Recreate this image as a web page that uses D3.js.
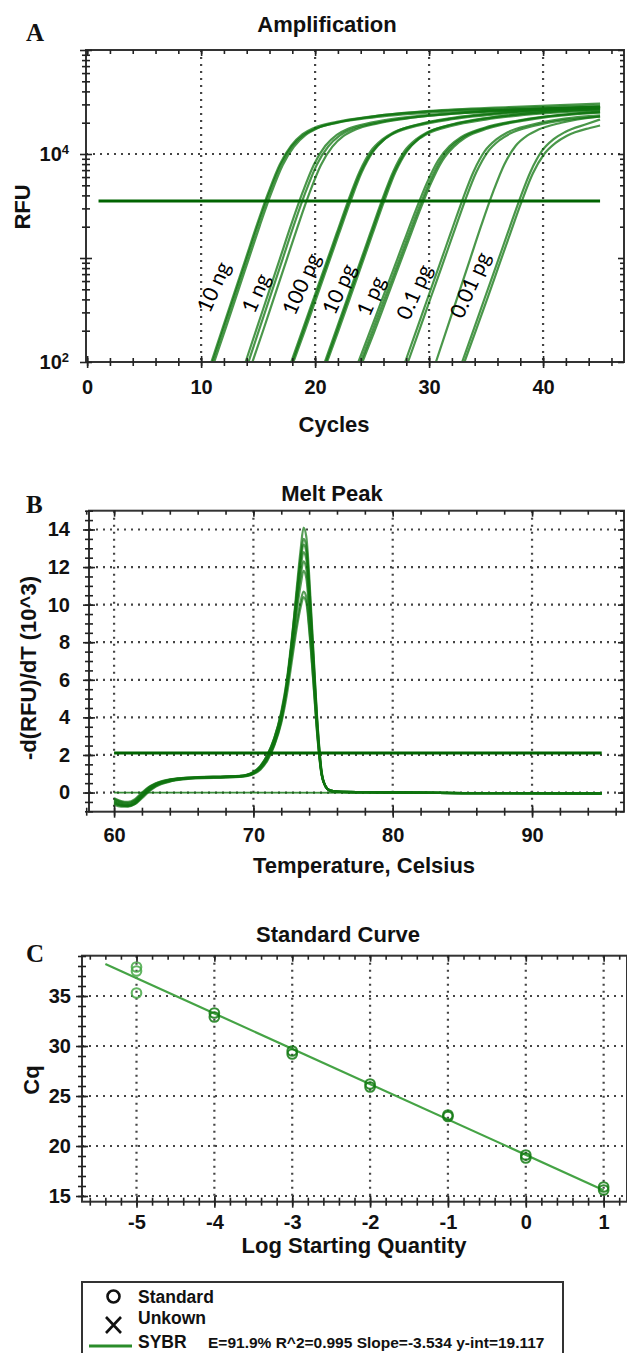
<!DOCTYPE html>
<html>
<head>
<meta charset="utf-8">
<script src="https://cdn.jsdelivr.net/npm/d3@7"></script>
<style>
  body { margin: 0; background: #fff; }
  svg text { font-family: "Liberation Sans", Arial, sans-serif; font-weight: bold; fill: #111; }
  .grid { stroke: #444; stroke-width: 2.2; stroke-dasharray: 2 5; }
</style>
</head>
<body>
<svg width="627" height="1353"></svg>
<script>
// ---- A: amplification (cycle, RFU) ----
var ampGroups = ['10 ng', '1 ng', '100 pg', '10 pg', '1 pg', '0.1 pg', '0.01 pg'];
var ampLabelCycle = [11.1, 14.8, 18.8, 22.1, 24.9, 28.7, 33.6];
var ampLabelRfu = [526, 460, 562, 503, 431, 471, 550];
var ampThreshold = 3530;
var ampXTicks = [0, 10, 20, 30, 40];
var ampYTicks = [100, 10000];

var amp10ng = [
  [[1,100],[10.9,100],[11.9,214],[12.9,457],[13.9,977],[14.9,2090],[15.9,4270],[16.9,7940],[17.9,12000],[18.9,15500],[19.9,17800],[21.9,20400],[24.9,22900],[29.9,25700],[36.9,27500],[45,29200]],
  [[1,100],[11,100],[12,214],[13,457],[14,977],[15,2090],[16,4270],[17,7940],[18,12000],[19,15300],[20,17500],[22,20000],[25,22400],[30,25000],[37,26900],[45,28300]],
  [[1,100],[11.15,100],[12.15,210],[13.15,450],[14.15,960],[15.15,2050],[16.15,4200],[17.15,7800],[18.15,11800],[19.15,15200],[20.15,17600],[22.15,20300],[25.15,23000],[30.15,26000],[37,28300],[45,30500]]
];
var amp1ng = [
  [[1,100],[13.9,100],[14.9,214],[15.9,457],[16.9,977],[17.9,2090],[18.9,4270],[19.9,7940],[20.9,12000],[21.9,15300],[22.9,17500],[24.9,20000],[27.9,22500],[32.9,25200],[39.9,27300],[45,28500]],
  [[1,100],[14.15,100],[15.15,214],[16.15,457],[17.15,977],[18.15,2090],[19.15,4270],[20.15,7900],[21.15,11800],[22.15,15000],[23.15,17200],[25.15,19700],[28.15,22200],[33.15,24800],[40,26800],[45,27800]],
  [[1,100],[14.5,100],[15.5,210],[16.5,450],[17.5,960],[18.5,2050],[19.5,4200],[20.5,7800],[21.5,11700],[22.5,14900],[23.5,17100],[25.5,19700],[28.5,22300],[33.5,25000],[40,27000],[45,28200]]
];
var amp100pg = [
  [[1,100],[17.9,100],[18.9,204],[19.9,417],[20.9,851],[21.9,1740],[22.9,3550],[23.9,6760],[24.9,10700],[25.9,13800],[26.9,16200],[28.9,19000],[31.9,21900],[36.9,25100],[45,27800]],
  [[1,100],[18,100],[19,204],[20,417],[21,851],[22,1740],[23,3550],[24,6700],[25,10500],[26,13600],[27,15900],[29,18700],[32,21600],[37,24700],[45,27300]],
  [[1,100],[18.1,100],[19.1,200],[20.1,410],[21.1,840],[22.1,1720],[23.1,3500],[24.1,6700],[25.1,10600],[26.1,13900],[27.1,16400],[29.1,19300],[32.1,22300],[37.1,25500],[45,28400]]
];
var amp10pg = [
  [[1,100],[20.85,100],[21.85,204],[22.85,417],[23.85,851],[24.85,1740],[25.85,3550],[26.85,6760],[27.85,10700],[28.85,13800],[29.85,16200],[31.85,19000],[34.85,21900],[39.85,25100],[45,26800]],
  [[1,100],[20.95,100],[21.95,204],[22.95,417],[23.95,851],[24.95,1740],[25.95,3550],[26.95,6700],[27.95,10500],[28.95,13500],[29.95,15800],[31.95,18600],[34.95,21400],[39.95,24500],[45,26200]],
  [[1,100],[21.05,100],[22.05,200],[23.05,410],[24.05,840],[25.05,1720],[26.05,3500],[27.05,6700],[28.05,10600],[29.05,13900],[30.05,16400],[32.05,19300],[35.05,22200],[40.05,25300],[45,27000]]
];
var amp1pg = [
  [[1,100],[23.8,100],[24.8,195],[25.8,380],[26.8,741],[27.8,1450],[28.8,2820],[29.8,5250],[30.8,8710],[31.8,11900],[32.8,14500],[34.8,17800],[37.8,21000],[42.8,24500],[45,25500]],
  [[1,100],[24,100],[25,195],[26,380],[27,741],[28,1450],[29,2820],[30,5250],[31,8710],[32,11900],[33,14500],[35,17800],[38,21000],[43,24500],[45,25300]],
  [[1,100],[24.15,100],[25.15,190],[26.15,372],[27.15,730],[28.15,1430],[29.15,2790],[30.15,5200],[31.15,8600],[32.15,11700],[33.15,14300],[35.15,17600],[38.15,20800],[43.15,24300],[45,25000]]
];
var amp01pg = [
  [[1,100],[27.9,100],[28.9,204],[29.9,417],[30.9,851],[31.9,1740],[32.9,3550],[33.9,6760],[34.9,10700],[35.9,13800],[36.9,16200],[38.9,19000],[41.9,21900],[45,23500]],
  [[1,100],[28.15,100],[29.15,204],[30.15,417],[31.15,851],[32.15,1740],[33.15,3550],[34.15,6700],[35.15,10500],[36.15,13500],[37.15,15800],[39.15,18600],[42.15,21400],[45,22800]]
];
var amp001pg = [
  [[1,100],[30.6,100],[31.6,214],[32.6,457],[33.6,977],[34.6,2090],[35.6,4270],[36.6,7940],[37.6,12000],[38.6,15000],[39.6,17200],[41.6,20000],[45,23000]],
  [[1,100],[32.9,100],[33.9,204],[34.9,417],[35.9,851],[36.9,1740],[37.9,3550],[38.9,6760],[39.9,10700],[40.9,13800],[41.9,16200],[43.9,19500],[45,21500]],
  [[1,100],[33.1,100],[34.1,200],[35.1,405],[36.1,830],[37.1,1700],[38.1,3450],[39.1,6500],[40.1,10000],[41.1,12800],[42.1,15000],[44.1,17800],[45,18800]]
];

// ---- B: melt peak, -d(RFU)/dT in 10^3 ----
var meltTemps = [60, 60.5, 61, 61.5, 62, 62.5, 63, 64, 65, 66, 68, 69, 69.5, 70, 70.5, 71, 71.5, 72, 72.4, 72.8, 73.1, 73.4, 73.6, 73.8, 74.0, 74.3, 74.6, 74.9, 75.2, 75.5, 76, 78, 85, 95];
var melt1 = [-0.4,-0.55,-0.6,-0.45,-0.1,0.25,0.45,0.68,0.77,0.81,0.85,0.88,0.93,1.05,1.3,1.8,2.6,3.9,5.7,8.4,10.8,13.0,14.1,13.6,11.6,7.6,3.7,1.1,0.3,0.1,0.05,0.02,-0.03,-0.05];
var melt2 = [-0.5,-0.65,-0.7,-0.55,-0.2,0.15,0.4,0.64,0.74,0.79,0.83,0.86,0.9,1.02,1.32,1.85,2.7,4.0,5.8,8.3,10.5,12.6,13.5,13.1,11.2,7.4,3.6,1.1,0.3,0.1,0.05,0.02,-0.03,-0.05];
var melt3 = [-0.3,-0.45,-0.5,-0.35,0,0.3,0.5,0.7,0.78,0.82,0.86,0.89,0.95,1.1,1.4,2.0,2.9,4.3,6.0,8.5,10.5,12.4,13.2,12.8,10.9,7.2,3.5,1.0,0.3,0.1,0.05,0.02,-0.03,-0.05];
var melt4 = [-0.6,-0.7,-0.72,-0.6,-0.25,0.1,0.35,0.6,0.72,0.77,0.81,0.84,0.88,1.0,1.25,1.75,2.55,3.8,5.5,7.9,10.0,12.0,12.8,12.4,10.6,7.0,3.4,1.0,0.3,0.1,0.05,0.02,-0.03,-0.05];
var melt5 = [-0.45,-0.6,-0.65,-0.5,-0.15,0.2,0.42,0.66,0.75,0.8,0.84,0.87,0.92,1.06,1.38,1.95,2.85,4.2,5.9,8.2,10.0,11.6,12.3,11.9,10.1,6.7,3.2,1.0,0.3,0.1,0.05,0.02,-0.03,-0.05];
var melt6 = [-0.55,-0.68,-0.7,-0.58,-0.22,0.12,0.38,0.62,0.73,0.78,0.82,0.85,0.9,1.04,1.35,1.9,2.75,4.0,5.6,7.8,9.6,11.1,11.8,11.4,9.7,6.4,3.1,0.95,0.3,0.1,0.05,0.02,-0.03,-0.05];
var melt7 = [-0.35,-0.5,-0.55,-0.4,-0.05,0.28,0.48,0.69,0.77,0.81,0.85,0.88,0.93,1.08,1.42,2.0,2.9,4.2,5.6,7.5,9.0,10.2,10.7,10.4,8.9,6.0,3.0,0.95,0.3,0.1,0.05,0.02,-0.03,-0.05];
var melt8 = [-0.65,-0.75,-0.75,-0.62,-0.3,0.05,0.32,0.58,0.7,0.76,0.8,0.83,0.87,0.98,1.22,1.7,2.5,3.7,5.2,7.2,8.7,9.9,10.4,10.1,8.7,5.9,2.9,0.9,0.3,0.1,0.05,0.02,-0.03,-0.05];
var meltBlankTemps = [60, 95];
var meltBlank = [0, -0.03];
var meltThreshold = 2.1;
var meltXTicks = [60, 70, 80, 90];
var meltYTicks = [0, 2, 4, 6, 8, 10, 12, 14];

// ---- C: standard curve ----
var stdLogQty = [-5, -5, -5, -4, -4, -3, -3, -2, -2, -1, -1, 0, 0, 1, 1];
var stdCq = [37.9, 37.5, 35.3, 33.3, 32.9, 29.5, 29.2, 26.2, 25.9, 23.1, 22.95, 19.1, 18.8, 15.9, 15.6];
var fitRange = [-5.4, 1.0];
var fitSlope = -3.534, fitIntercept = 19.117, fitEff = 91.9, fitR2 = 0.995;
var stdXTicks = [-5, -4, -3, -2, -1, 0, 1];
var stdYTicks = [15, 20, 25, 30, 35];

var svg = d3.select('svg');
var green = '#0e740e';

function txt(x, y, s, size, opt) {
  opt = opt || {};
  return svg.append('text')
    .attr('transform', 'translate(' + x + ',' + y + ')' + (opt.rot ? ' rotate(' + opt.rot + ')' : ''))
    .attr('text-anchor', opt.anchor || 'middle')
    .attr('dy', opt.dy || null)
    .style('font-size', size + 'px')
    .text(s);
}

function grid(x, y, xs, ys) {
  var g = svg.append('g');
  xs.forEach(function (v) {
    g.append('line').attr('class', 'grid')
      .attr('x1', x(v)).attr('x2', x(v)).attr('y1', y.range()[1]).attr('y2', y.range()[0]);
  });
  ys.forEach(function (v) {
    g.append('line').attr('class', 'grid')
      .attr('y1', y(v)).attr('y2', y(v)).attr('x1', x.range()[0]).attr('x2', x.range()[1]);
  });
}

function marks(axis, tr, vals, size) {
  var g = svg.append('g').attr('transform', tr)
    .call(axis.tickValues(vals).tickSize(size).tickFormat(function () { return ''; }));
  g.select('.domain').remove();
  g.selectAll('line').attr('stroke', '#222').attr('stroke-width', 1.6);
}

function frame(x, y, xMinor, yMinor, xMajor, yMajor, noRight) {
  var xl = x.range()[0], xr = x.range()[1], yb = y.range()[0], yt = y.range()[1];
  svg.append('rect').attr('x', xl).attr('y', yt).attr('width', xr - xl).attr('height', yb - yt)
    .attr('fill', 'none').attr('stroke', '#333').attr('stroke-width', 2);
  [[xMinor, 4], [xMajor, 6]].forEach(function (p) {
    marks(d3.axisBottom(x), 'translate(0,' + yb + ')', p[0], p[1]);
    marks(d3.axisTop(x), 'translate(0,' + yb + ')', p[0], p[1]);
    marks(d3.axisBottom(x), 'translate(0,' + yt + ')', p[0], p[1]);
  });
  [[yMinor, 4], [yMajor, 6]].forEach(function (p) {
    marks(d3.axisLeft(y), 'translate(' + xl + ',0)', p[0], p[1]);
    marks(d3.axisRight(y), 'translate(' + xl + ',0)', p[0], p[1]);
    if (!noRight) marks(d3.axisLeft(y), 'translate(' + xr + ',0)', p[0], p[1]);
  });
}

function labels(axis, tr, vals, pad, fmt) {
  var g = svg.append('g').attr('transform', tr)
    .call(axis.tickValues(vals).tickSize(0).tickPadding(pad).tickFormat(fmt || function (d) { return String(d); }));
  g.select('.domain').remove();
  g.selectAll('text').style('font-size', '20px').style('font-family', '"Liberation Sans", Arial, sans-serif').attr('fill', '#111');
  return g;
}

// ================= A =================
var xA = d3.scaleLinear().domain([-0.1, 47.1]).range([86, 624]);
var yA = d3.scaleLog().domain([100, 100000]).range([362, 50]);
grid(xA, yA, [10, 20, 30, 40], [10000]);

var baseA = d3.line().x(function (d) { return xA(d[0]); }).y(function (d) { return yA(d[1]); });
var riseA = d3.line().x(function (d) { return xA(d[0]); }).y(function (d) { return yA(d[1]); }).curve(d3.curveMonotoneX);
[amp10ng, amp1ng, amp100pg, amp10pg, amp1pg, amp01pg, amp001pg].forEach(function (group) {
  group.forEach(function (curve) {
    svg.append('path').attr('d', baseA(curve.slice(0, 2))).attr('fill', 'none')
      .attr('stroke', green).attr('stroke-width', 2.2).attr('stroke-opacity', 0.75);
    svg.append('path').attr('d', riseA(curve.slice(1))).attr('fill', 'none')
      .attr('stroke', green).attr('stroke-width', 2.2).attr('stroke-opacity', 0.75);
  });
});
svg.append('line').attr('x1', xA(1)).attr('x2', xA(45)).attr('y1', yA(ampThreshold)).attr('y2', yA(ampThreshold))
  .attr('stroke', '#006400').attr('stroke-width', 3);

ampGroups.forEach(function (name, i) {
  svg.append('text')
    .attr('transform', 'translate(' + xA(ampLabelCycle[i]) + ',' + yA(ampLabelRfu[i]) + ') rotate(-66)')
    .attr('text-anchor', 'middle').attr('dy', '0.35em')
    .style('font-family', 'Lato, "Open Sans", sans-serif').style('font-weight', 'normal')
    .style('font-size', '21px').style('fill', '#000')
    .text(name);
});

var minorA = [];
[100, 1000, 10000].forEach(function (p) { for (var k = 2; k <= 9; k++) minorA.push(p * k); });
frame(xA, yA, d3.range(0, 47, 2), minorA, ampXTicks, [100, 1000, 10000, 100000]);
labels(d3.axisBottom(xA), 'translate(0,362)', ampXTicks, 18);
labels(d3.axisLeft(yA), 'translate(86,0)', ampYTicks, 17, function () { return '10'; })
  .selectAll('text').each(function (d) {
    d3.select(this).append('tspan').attr('dy', '-0.55em').style('font-size', '13px')
      .text(Math.round(Math.log10(d)));
  });

txt(327, 32, 'Amplification', 22);
txt(22, 207, 'RFU', 22, { rot: -90, dy: '0.35em' });
txt(334, 432, 'Cycles', 22);
txt(26, 41, 'A', 25, { anchor: 'start' }).style('font-family', '"Liberation Serif", "Times New Roman", serif');

// ================= B =================
var xB = d3.scaleLinear().domain([58.2, 96.6]).range([89, 624]);
var yB = d3.scaleLinear().domain([-1.02, 15.0]).range([811.7, 510.7]);
grid(xB, yB, meltXTicks, meltYTicks);

var lineB = d3.line().x(function (d) { return xB(d[0]); }).y(function (d) { return yB(d[1]); }).curve(d3.curveMonotoneX);
svg.append('path').attr('d', lineB(d3.zip(meltBlankTemps, meltBlank))).attr('fill', 'none')
  .attr('stroke', green).attr('stroke-width', 1.8).attr('stroke-opacity', 0.8);
[melt1, melt2, melt3, melt4, melt5, melt6, melt7, melt8].forEach(function (vals) {
  svg.append('path').attr('d', lineB(d3.zip(meltTemps, vals))).attr('fill', 'none')
    .attr('stroke', green).attr('stroke-width', 2.2).attr('stroke-opacity', 0.7);
});
svg.append('line').attr('x1', xB(60)).attr('x2', xB(95)).attr('y1', yB(meltThreshold)).attr('y2', yB(meltThreshold))
  .attr('stroke', '#006400').attr('stroke-width', 3);

frame(xB, yB, d3.range(58, 97, 2), d3.range(-1, 15.01, 0.5), meltXTicks, meltYTicks);
labels(d3.axisBottom(xB), 'translate(0,811.7)', meltXTicks, 16);
labels(d3.axisLeft(yB), 'translate(89,0)', meltYTicks, 19);

txt(332, 501, 'Melt Peak', 22);
txt(28, 668, '-d(RFU)/dT (10^3)', 22, { rot: -90, dy: '0.35em' });
txt(364, 873, 'Temperature, Celsius', 22);
txt(26, 513, 'B', 25, { anchor: 'start' }).style('font-family', '"Liberation Serif", "Times New Roman", serif');

// ================= C =================
var xC = d3.scaleLinear().domain([-5.7, 1.3]).range([82, 627]);
var yC = d3.scaleLinear().domain([14.43, 39.03]).range([1201.7, 955.7]);
grid(xC, yC, stdXTicks, stdYTicks);

svg.append('line')
  .attr('x1', xC(fitRange[0])).attr('y1', yC(fitIntercept + fitSlope * fitRange[0]))
  .attr('x2', xC(fitRange[1])).attr('y2', yC(fitIntercept + fitSlope * fitRange[1]))
  .attr('stroke', '#45a345').attr('stroke-width', 2.2);
svg.selectAll('circle.std').data(d3.zip(stdLogQty, stdCq)).enter().append('circle')
  .attr('class', 'std')
  .attr('cx', function (d) { return xC(d[0]); }).attr('cy', function (d) { return yC(d[1]); })
  .attr('r', 4.8).attr('fill', 'none')
  .attr('stroke', function (d) { return d[0] === -5 ? '#46a846' : '#137a13'; })
  .attr('stroke-width', 2.1).attr('stroke-opacity', 0.85);

frame(xC, yC, d3.range(-5.6, 1.25, 0.2).map(function (v) { return +v.toFixed(1); }), d3.range(15, 39.5, 1), stdXTicks, stdYTicks, true);
labels(d3.axisBottom(xC), 'translate(0,1201.7)', stdXTicks, 13);
labels(d3.axisLeft(yC), 'translate(82,0)', stdYTicks, 11);

txt(338, 942, 'Standard Curve', 22);
txt(31, 1080, 'Cq', 22, { rot: -90, dy: '0.35em' });
txt(354, 1253, 'Log Starting Quantity', 22);
txt(26, 962, 'C', 25, { anchor: 'start' }).style('font-family', '"Liberation Serif", "Times New Roman", serif');

// legend
svg.append('rect').attr('x', 82).attr('y', 1282).attr('width', 481).attr('height', 90)
  .attr('fill', 'none').attr('stroke', '#333').attr('stroke-width', 2);
svg.append('circle').attr('cx', 113.5).attr('cy', 1296.5).attr('r', 6)
  .attr('fill', 'none').attr('stroke', '#111').attr('stroke-width', 2.6);
svg.append('path').attr('d', 'M106,1317L121,1333M121,1317L106,1333')
  .attr('stroke', '#111').attr('stroke-width', 2.6);
svg.append('line').attr('x1', 89).attr('x2', 132).attr('y1', 1346).attr('y2', 1346)
  .attr('stroke', '#2a8c2a').attr('stroke-width', 3);
txt(138, 1303, 'Standard', 17.5, { anchor: 'start' });
txt(138, 1324, 'Unkown', 17.5, { anchor: 'start' });
txt(138, 1348, 'SYBR', 17.5, { anchor: 'start' });
txt(208, 1348, 'E=' + fitEff + '% R^2=' + fitR2 + ' Slope=' + fitSlope + ' y-int=' + fitIntercept, 15.5, { anchor: 'start' });
</script>
</body>
</html>
